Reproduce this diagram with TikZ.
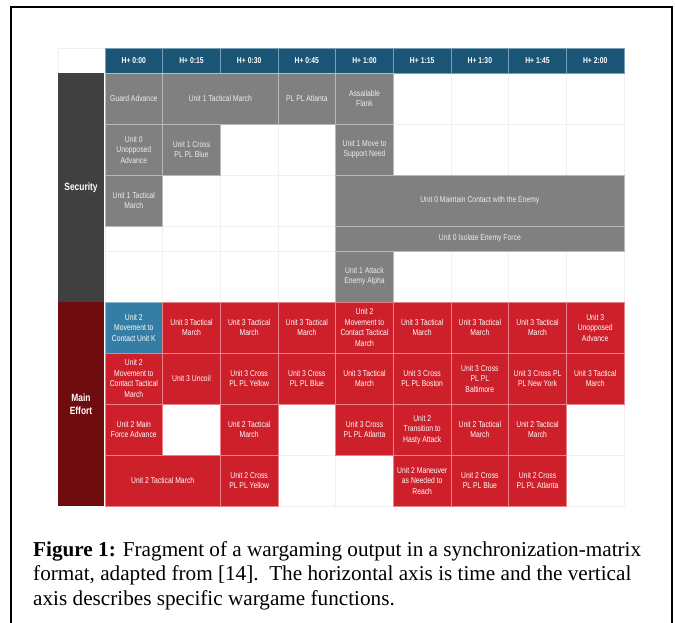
\documentclass[tikz,border=0pt]{standalone}
\usepackage{fontspec}
\setmainfont{Liberation Serif}
\newfontfamily\cellfont[FakeStretch=0.8]{Liberation Sans}
\definecolor{hdr}{RGB}{27,85,118}
\definecolor{hdrline}{RGB}{120,160,185}
\definecolor{cellgray}{RGB}{128,128,128}
\definecolor{grayline}{RGB}{185,185,185}
\definecolor{darkgray}{RGB}{64,64,64}
\definecolor{cellred}{RGB}{205,32,43}
\definecolor{redline}{RGB}{232,130,135}
\definecolor{darkred}{RGB}{110,12,14}
\definecolor{cellblue}{RGB}{52,126,165}
\definecolor{blueline}{RGB}{140,185,210}
\definecolor{faint}{RGB}{240,240,240}
\tikzset{
  cellbase/.style={rectangle, inner sep=0pt, outer sep=0pt, align=center,
    font=\cellfont\fontsize{8.5}{10.5}\selectfont, line width=0.8pt},
  hdrcell/.style={cellbase, fill=hdr, draw=hdrline, text=white,
    font=\cellfont\bfseries\fontsize{8.5}{10.5}\selectfont},
  graycell/.style={cellbase, fill=cellgray, draw=grayline, text=white!93!black},
  redcell/.style={cellbase, fill=cellred, draw=redline, text=white},
  bluecell/.style={cellbase, fill=cellblue, draw=blueline, text=white},
  groupcell/.style={rectangle, inner sep=0pt, outer sep=0pt, align=center, text=white,
    font=\cellfont\bfseries\fontsize{10.5}{13}\selectfont},
  gridline/.style={draw=faint, line width=0.6pt},
  framebox/.style={draw=black, line width=2pt},
}
% #1 name, #2 first column, #3 number of columns, #4 top, #5 bottom, #6 style, #7 text
\newcommand{\cellnode}[7]{%
  \pgfmathsetmacro\cx{105+57.67*(#2+#3/2)}%
  \pgfmathsetmacro\cy{(#4+#5)/2}%
  \pgfmathsetmacro\cw{57.67*#3}%
  \pgfmathsetmacro\ch{#5-#4}%
  \node[#6, minimum width=\cw pt, minimum height=\ch pt] (#1) at (\cx,\cy) {#7};}
\begin{document}
\begin{tikzpicture}[x=1pt,y=-1pt]
\useasboundingbox (0,0) rectangle (675,623);
% frame
\draw[framebox] (11,623) -- (11,7) -- (672,7) -- (672,623);
% faint grid
\foreach \yy in {73,124,175,226,251,302,353,404,455,506}
  \draw[gridline] (105,\yy) -- (624,\yy);
\foreach \i in {0,...,9}
  \draw[gridline] ({105+57.67*\i},73) -- ({105+57.67*\i},506);
\draw[gridline] (58,48) rectangle (105,73);
% header
\cellnode{h0}{0}{1}{48}{73}{hdrcell}{H+ 0:00}
\cellnode{h1}{1}{1}{48}{73}{hdrcell}{H+ 0:15}
\cellnode{h2}{2}{1}{48}{73}{hdrcell}{H+ 0:30}
\cellnode{h3}{3}{1}{48}{73}{hdrcell}{H+ 0:45}
\cellnode{h4}{4}{1}{48}{73}{hdrcell}{H+ 1:00}
\cellnode{h5}{5}{1}{48}{73}{hdrcell}{H+ 1:15}
\cellnode{h6}{6}{1}{48}{73}{hdrcell}{H+ 1:30}
\cellnode{h7}{7}{1}{48}{73}{hdrcell}{H+ 1:45}
\cellnode{h8}{8}{1}{48}{73}{hdrcell}{H+ 2:00}
% group labels
\node[groupcell, fill=darkgray, minimum width=46pt, minimum height=229pt] (security) at (81,187.5) {Security};
\node[groupcell, fill=darkred, minimum width=46pt, minimum height=204pt] (maineffort) at (81,404) {Main\\Effort};
% security rows
\cellnode{s1a}{0}{1}{73}{124}{graycell}{Guard Advance}
\cellnode{s1b}{1}{2}{73}{124}{graycell}{Unit 1 Tactical March}
\cellnode{s1c}{3}{1}{73}{124}{graycell}{PL PL Atlanta}
\cellnode{s1d}{4}{1}{73}{124}{graycell}{Assailable\\Flank}
\cellnode{s2a}{0}{1}{124}{175}{graycell}{Unit 0\\Unopposed\\Advance}
\cellnode{s2b}{1}{1}{124}{175}{graycell}{Unit 1 Cross\\PL PL Blue}
\cellnode{s2c}{4}{1}{124}{175}{graycell}{Unit 1 Move to\\Support Need}
\cellnode{s3a}{0}{1}{175}{226}{graycell}{Unit 1 Tactical\\March}
\cellnode{s3b}{4}{5}{175}{226}{graycell}{Unit 0 Maintain Contact with the Enemy}
\cellnode{s4a}{4}{5}{226}{251}{graycell}{Unit 0 Isolate Enemy Force}
\cellnode{s5a}{4}{1}{251}{302}{graycell}{Unit 1 Attack\\Enemy Alpha}
% main effort row 1
\cellnode{m1a}{0}{1}{302}{353}{bluecell}{Unit 2\\Movement to\\Contact Unit K}
\cellnode{m1b}{1}{1}{302}{353}{redcell}{Unit 3 Tactical\\March}
\cellnode{m1c}{2}{1}{302}{353}{redcell}{Unit 3 Tactical\\March}
\cellnode{m1d}{3}{1}{302}{353}{redcell}{Unit 3 Tactical\\March}
\cellnode{m1e}{4}{1}{302}{353}{redcell}{Unit 2\\Movement to\\Contact Tactical\\March}
\cellnode{m1f}{5}{1}{302}{353}{redcell}{Unit 3 Tactical\\March}
\cellnode{m1g}{6}{1}{302}{353}{redcell}{Unit 3 Tactical\\March}
\cellnode{m1h}{7}{1}{302}{353}{redcell}{Unit 3 Tactical\\March}
\cellnode{m1i}{8}{1}{302}{353}{redcell}{Unit 3\\Unopposed\\Advance}
% main effort row 2
\cellnode{m2a}{0}{1}{353}{404}{redcell}{Unit 2\\Movement to\\Contact Tactical\\March}
\cellnode{m2b}{1}{1}{353}{404}{redcell}{Unit 3 Uncoil}
\cellnode{m2c}{2}{1}{353}{404}{redcell}{Unit 3 Cross\\PL PL Yellow}
\cellnode{m2d}{3}{1}{353}{404}{redcell}{Unit 3 Cross\\PL PL Blue}
\cellnode{m2e}{4}{1}{353}{404}{redcell}{Unit 3 Tactical\\March}
\cellnode{m2f}{5}{1}{353}{404}{redcell}{Unit 3 Cross\\PL PL Boston}
\cellnode{m2g}{6}{1}{353}{404}{redcell}{Unit 3 Cross\\PL PL\\Baltimore}
\cellnode{m2h}{7}{1}{353}{404}{redcell}{Unit 3 Cross PL\\PL New York}
\cellnode{m2i}{8}{1}{353}{404}{redcell}{Unit 3 Tactical\\March}
% main effort row 3
\cellnode{m3a}{0}{1}{404}{455}{redcell}{Unit 2 Main\\Force Advance}
\cellnode{m3c}{2}{1}{404}{455}{redcell}{Unit 2 Tactical\\March}
\cellnode{m3e}{4}{1}{404}{455}{redcell}{Unit 3 Cross\\PL PL Atlanta}
\cellnode{m3f}{5}{1}{404}{455}{redcell}{Unit 2\\Transition to\\Hasty Attack}
\cellnode{m3g}{6}{1}{404}{455}{redcell}{Unit 2 Tactical\\March}
\cellnode{m3h}{7}{1}{404}{455}{redcell}{Unit 2 Tactical\\March}
% main effort row 4
\cellnode{m4a}{0}{2}{455}{506}{redcell}{Unit 2 Tactical March}
\cellnode{m4c}{2}{1}{455}{506}{redcell}{Unit 2 Cross\\PL PL Yellow}
\cellnode{m4f}{5}{1}{455}{506}{redcell}{Unit 2 Maneuver\\as Needed to\\Reach}
\cellnode{m4g}{6}{1}{455}{506}{redcell}{Unit 2 Cross\\PL PL Blue}
\cellnode{m4h}{7}{1}{455}{506}{redcell}{Unit 2 Cross\\PL PL Atlanta}
% caption
\node[anchor=base west, inner sep=0pt, align=left, font=\fontsize{21.2}{24.5}\selectfont] (caption) at (33,605)
  {\textbf{Figure 1:} Fragment of a wargaming output in a synchronization-matrix\\
   format, adapted from [14].\ \ The horizontal axis is time and the vertical\\
   axis describes specific wargame functions.};
\end{tikzpicture}
\end{document}
